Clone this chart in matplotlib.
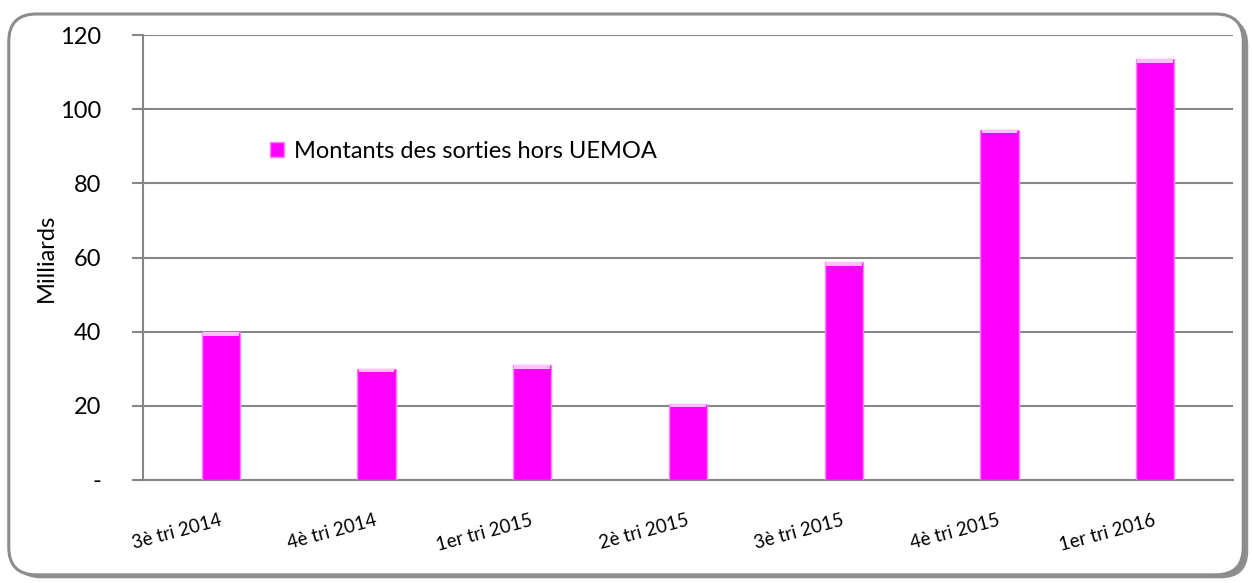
import numpy as np
import matplotlib.pyplot as plt
from matplotlib.patches import FancyBboxPatch

plt.rcParams['font.family'] = ['Lato', 'DejaVu Sans']

categories = ['3è tri 2014', '4è tri 2014', '1er tri 2015', '2è tri 2015',
              '3è tri 2015', '4è tri 2015', '1er tri 2016']
values = [39.8, 30.0, 31.0, 20.6, 58.8, 94.5, 113.5]
yticks = [0, 20, 40, 60, 80, 100, 120]
yticklabels = ['-', '20', '40', '60', '80', '100', '120']

fig = plt.figure(figsize=(12.52, 5.83), dpi=100)

# rounded frame with shadow
shadow = FancyBboxPatch((0.011, 0.008), 0.986, 0.962, boxstyle='round,pad=0,rounding_size=0.022',
                        transform=fig.transFigure, facecolor='#8f8f8f', edgecolor='none',
                        mutation_aspect=1252 / 583, zorder=-2)
frame = FancyBboxPatch((0.007, 0.014), 0.986, 0.962, boxstyle='round,pad=0,rounding_size=0.022',
                       transform=fig.transFigure, facecolor='white', edgecolor='#8c8c8c',
                       linewidth=2.2, mutation_aspect=1252 / 583, zorder=-1)
fig.patches.extend([shadow, frame])

ax = fig.add_axes([143 / 1252, 1 - 480 / 583, (1233 - 143) / 1252, (480 - 35) / 583])
ax.set_zorder(1)
ax.set_facecolor('none')

x = np.arange(len(categories))
ax.bar(x, values, width=0.245, color='#FF00FF', edgecolor='#FF80FF', linewidth=1.0, zorder=3)
# lighter top cap to mimic bevel
ax.bar(x, [1.0] * len(values), bottom=np.array(values) - 1.0, width=0.23,
       color='#FFC0FF', edgecolor='none', zorder=4)

ax.set_xlim(-0.5, len(categories) - 0.5)
ax.set_ylim(0, 120)
ax.set_yticks(yticks)
ax.set_yticklabels(yticklabels, fontsize=17)
ax.yaxis.grid(True, color='#868686', linewidth=1.5, zorder=0)
ax.set_axisbelow(True)
ax.tick_params(axis='y', length=8, width=1.5, color='#868686', pad=22)
ax.tick_params(axis='x', length=0, pad=29)
ax.set_xticks(x)
ax.set_xticklabels(categories, rotation=15, fontsize=13.5, ha='right', va='center',
                   rotation_mode='anchor')
for s in ['top', 'right']:
    ax.spines[s].set_visible(False)
ax.spines['left'].set_color('#868686')
ax.spines['bottom'].set_color('#868686')
ax.spines['left'].set_linewidth(1.5)
ax.spines['bottom'].set_linewidth(1.5)

ax.set_ylabel('Milliards', fontsize=17, labelpad=2)

ax.legend(['Montants des sorties hors UEMOA'], loc='upper left', bbox_to_anchor=(0.097, 0.81),
          frameon=False, fontsize=17, handlelength=0.6, handleheight=0.6, handletextpad=0.4)

fig.savefig('out.png', dpi=100)
